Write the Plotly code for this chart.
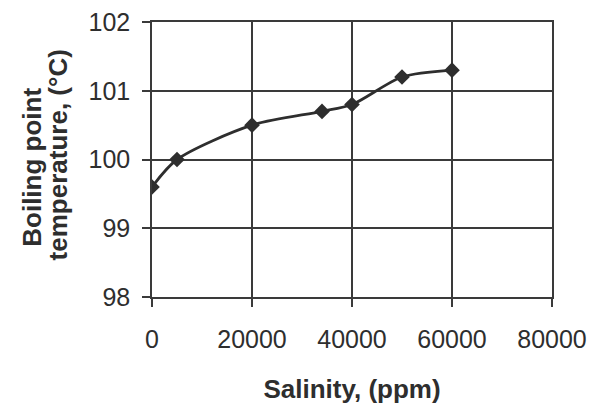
import plotly.graph_objects as go

salinity = [0, 5000, 20000, 34000, 40000, 50000, 60000]
boiling_temp = [99.6, 100.0, 100.5, 100.7, 100.8, 101.2, 101.3]
x_ticks = [0, 20000, 40000, 60000, 80000]
y_ticks = [98, 99, 100, 101, 102]
y_title_lines = ["Boiling point", "temperature, (°C)"]
x_title = "Salinity, (ppm)"

ink = "#2e2e2e"
grid = "#3a3a3a"
fig = go.Figure()
fig.add_trace(go.Scatter(
    x=salinity, y=boiling_temp, mode="lines+markers",
    line=dict(color=ink, width=2.8, shape="spline", smoothing=0.8),
    marker=dict(symbol="diamond", size=12, color=ink),
    showlegend=False,
))

fig.update_layout(
    width=589, height=406,
    margin=dict(l=152, r=37, t=22, b=109),
    paper_bgcolor="white", plot_bgcolor="white",
    font=dict(family="Liberation Sans, Arial, sans-serif", color=ink, size=25),
)
fig.update_xaxes(
    range=[0, 80000], tickvals=x_ticks, ticktext=[str(v) for v in x_ticks],
    automargin=False, ticklabeloverflow="allow", ticklabelstandoff=11,
    showgrid=True, gridcolor=grid, gridwidth=1.5,
    showline=True, linecolor=grid, linewidth=1.5, mirror=True,
    ticks="outside", ticklen=8, tickcolor=grid, tickwidth=1.5,
    zeroline=False, tickfont=dict(size=25),
    title=dict(text="<b>" + x_title + "</b>", font=dict(size=26), standoff=28),
)
fig.update_yaxes(
    range=[98, 102], tickvals=y_ticks,
    automargin=False, ticklabeloverflow="allow", ticklabelstandoff=7,
    showgrid=True, gridcolor=grid, gridwidth=1.5,
    showline=True, linecolor=grid, linewidth=1.5, mirror=True,
    ticks="outside", ticklen=8, tickcolor=grid, tickwidth=1.5,
    zeroline=False, tickfont=dict(size=25),
)
# two lines of the rotated y title, placed in paper units relative to the plot area
for text, xp, yp in [(y_title_lines[0], -0.30, 0.47), (y_title_lines[1], -0.235, 0.515)]:
    fig.add_annotation(
        text="<b>" + text + "</b>",
        textangle=-90, showarrow=False,
        xref="paper", yref="paper", x=xp, y=yp,
        xanchor="center", yanchor="middle",
        font=dict(size=26, color=ink),
    )
fig.write_html(
    "out.html",
    config={"displayModeBar": False},
    post_script="document.body.style.margin='0';document.body.style.overflow='hidden';",
)
